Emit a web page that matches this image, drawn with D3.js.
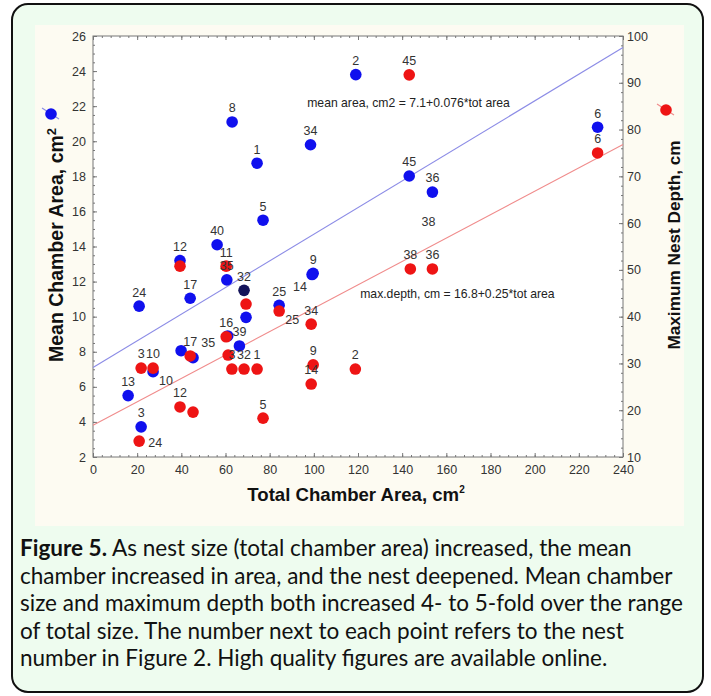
<!DOCTYPE html>
<html><head><meta charset="utf-8">
<script src="https://cdn.jsdelivr.net/npm/d3@7"></script>
<style>
html,body{margin:0;padding:0;background:#fff;}
svg{display:block;}
</style></head>
<body><svg id="c" width="711" height="696"></svg>
<script>
// ---------- data ----------
const xTicks = [0,20,40,60,80,100,120,140,160,180,200,220,240];
const leftTicks = [2,4,6,8,10,12,14,16,18,20,22,24,26];
const rightTicks = [10,20,30,40,50,60,70,80,90,100];

// mean chamber area (left axis), blue
const blueLabels = ["2","8","1","34","5","40","12","35","32","24","17","25","9","14","","","39","","","10","13","3","45","36","6"];
const blueX      = [119,63,74.3,98.5,77,56.2,39.4,60.6,68.4,20.9,44,84.3,99.7,99.2,69.3,61,66.3,39.9,45.3,27.2,15.9,21.8,143.2,153.7,228.5];
const blueY      = [23.8,21.1,18.75,19.8,15.5,14.1,13.2,12.1,11.5,10.6,11.05,10.65,12.47,12.4,9.96,8.9,8.33,8.06,7.66,6.86,5.5,3.72,18.02,17.1,20.8];
const bluePlace  = ["n","n","n","n","n","n","n","n","n","n","n","n","n","sw","n","n","n","n","n","se","n","n","n","n","n"];

// maximum nest depth (right axis), red
const redLabels = ["45","6","38","36","","11","","25","34","16","35","17","3","10","3","32","1","9","14","2","5","12","","24"];
const redX      = [143.2,228.5,143.7,153.7,39.4,60.3,69.3,84.3,98.8,60.3,61.2,44,21.8,27.2,62.9,68.4,74.3,99.7,98.8,118.8,77,39.4,45.3,20.9];
const redY      = [91.7,75.0,50.2,50.2,50.8,50.8,42.7,41.2,38.4,35.7,31.8,31.6,29.0,29.0,28.8,28.8,28.8,29.7,25.6,28.8,18.3,20.7,19.6,13.4];
const redPlace  = ["n","n","n","n","n","n","n","se","n","n","nw","n","n","n","n","n","n","n","n","n","n","n","n","e"];

// stray label
const extraLabels = ["38"];
const extraX = [151.9];
const extraY = [15.4];

// regressions
const blueFit = {a:7.1, b:0.076, text:"mean area, cm2 = 7.1+0.076*tot area"};
const redFit  = {a:16.8, b:0.25, text:"max.depth, cm = 16.8+0.25*tot area"};

const captionLines = [
  ["Figure 5.", " As nest size (total chamber area) increased, the mean"],
  ["", "chamber increased in area, and the nest deepened. Mean chamber"],
  ["", "size and maximum depth both increased 4- to 5-fold over the range"],
  ["", "of total size. The number next to each point refers to the nest"],
  ["", "number in Figure 2. High quality figures are available online."]
];

// ---------- drawing ----------
const svg = d3.select("#c");
const BLUE = "#1010ee", RED = "#ee1414";
const tickFont = "Liberation Sans, Arial, sans-serif";

svg.append("rect").attr("x",12).attr("y",4).attr("width",691).attr("height",688)
  .attr("rx",16).attr("fill","#eefcef").attr("stroke","#111").attr("stroke-width",2);
svg.append("rect").attr("x",35).attr("y",25).attr("width",649).attr("height",501).attr("fill","#fdfbf2");

const L=93, R=623, T=36, B=457;
const x = d3.scaleLinear([0,240],[L,R]);
const yL = d3.scaleLinear([2,26],[B,T]);
const yR = d3.scaleLinear([10,100],[B,T]);

svg.append("rect").attr("x",L).attr("y",T).attr("width",R-L).attr("height",B-T).attr("fill","#fff");

function styleAxis(g){
  g.select(".domain").remove();
  g.selectAll("line").attr("stroke","#777");
  g.selectAll("text").attr("fill","#333").attr("font-family",tickFont).attr("font-size",12.5);
}
// major axes
svg.append("g").attr("transform",`translate(0,${B})`)
  .call(d3.axisBottom(x).tickValues(xTicks).tickSize(-4).tickPadding(8)).call(styleAxis);
svg.append("g").attr("transform",`translate(${L},0)`)
  .call(d3.axisLeft(yL).tickValues(leftTicks).tickSize(-4).tickPadding(7)).call(styleAxis);
svg.append("g").attr("transform",`translate(${R},0)`)
  .call(d3.axisRight(yR).tickValues(rightTicks).tickSize(-4).tickPadding(4)).call(styleAxis);
svg.append("g").attr("transform",`translate(0,${T})`)
  .call(d3.axisTop(x).tickValues(xTicks).tickSize(-4).tickFormat("")).call(styleAxis);
// minor ticks
const minorX = d3.range(0,240.01,4), minorL = d3.range(2,26.01,0.5), minorR = d3.range(10,100.01,2);
[[d3.axisBottom(x).tickValues(minorX),`translate(0,${B})`],
 [d3.axisTop(x).tickValues(minorX),`translate(0,${T})`],
 [d3.axisLeft(yL).tickValues(minorL),`translate(${L},0)`],
 [d3.axisRight(yR).tickValues(minorR),`translate(${R},0)`]].forEach(([ax,tr])=>{
  svg.append("g").attr("transform",tr).call(ax.tickSize(-2).tickFormat("")).call(styleAxis);
});
svg.append("rect").attr("x",L).attr("y",T).attr("width",R-L).attr("height",B-T)
  .attr("fill","none").attr("stroke","#777").attr("stroke-width",1);

// regression lines
const plot = svg.append("g");
plot.append("line").attr("x1",x(0)).attr("x2",x(240))
  .attr("y1",yL(blueFit.a)).attr("y2",yL(blueFit.a+blueFit.b*240))
  .attr("stroke","#8c8ce6").attr("stroke-width",1.1);
plot.append("line").attr("x1",x(0)).attr("x2",x(240))
  .attr("y1",yR(redFit.a)).attr("y2",yR(redFit.a+redFit.b*240))
  .attr("stroke","#f08c8c").attr("stroke-width",1.1);

// points
const blue = blueX.map((v,i)=>({x:v,y:blueY[i],label:blueLabels[i],place:bluePlace[i],s:"b"}));
const red  = redX.map((v,i)=>({x:v,y:redY[i],label:redLabels[i],place:redPlace[i],s:"r"}));
plot.selectAll("circle.b").data(blue).join("circle").attr("class","b")
  .attr("cx",d=>x(d.x)).attr("cy",d=>yL(d.y)).attr("r",5.8)
  .attr("fill",d=>d.label==="32"?"#14145a":BLUE);
plot.selectAll("circle.r").data(red).join("circle").attr("class","r")
  .attr("cx",d=>x(d.x)).attr("cy",d=>yR(d.y)).attr("r",5.8).attr("fill",RED);

// point labels
const off = {n:[0,-14], e:[16,2], se:[13,9], sw:[-12,12], nw:[-20,-12]};
const all = blue.concat(red).filter(d=>d.label!=="");
plot.selectAll("text.pl").data(all).join("text").attr("class","pl")
  .attr("x",d=>x(d.x)+off[d.place][0])
  .attr("y",d=>(d.s==="b"?yL(d.y):yR(d.y))+off[d.place][1])
  .attr("dy","0.35em").attr("text-anchor","middle")
  .attr("font-family",tickFont).attr("font-size",12.5).attr("fill","#333")
  .text(d=>d.label);
plot.selectAll("text.ex").data(extraLabels).join("text").attr("class","ex")
  .attr("x",(d,i)=>x(extraX[i])).attr("y",(d,i)=>yL(extraY[i])).attr("dy","0.35em")
  .attr("text-anchor","middle").attr("font-family",tickFont).attr("font-size",12.5).attr("fill","#333")
  .text(d=>d);

// equations
plot.append("text").attr("x",x(97)).attr("y",yL(22.2)).attr("dy","0.35em")
  .attr("font-family",tickFont).attr("font-size",12.2).attr("fill","#222").text(blueFit.text);
plot.append("text").attr("x",x(121)).attr("y",yR(44.9)).attr("dy","0.35em")
  .attr("font-family",tickFont).attr("font-size",12.2).attr("fill","#222").text(redFit.text);

// axis titles
const title = (xx,yy,rot,fs)=>svg.append("text").attr("transform",`translate(${xx},${yy}) rotate(${rot})`)
    .attr("text-anchor","middle").attr("font-family",tickFont).attr("font-weight","bold")
    .attr("font-size",fs).attr("fill","#111");
const tl = title(63,245,-90,19.5); tl.append("tspan").text("Mean Chamber Area, cm");
tl.append("tspan").attr("dy",-7).attr("font-size",13).text("2");
const tr = title(680,245,-90,17.2); tr.text("Maximum Nest Depth, cm");
const tb = title(356,501,0,18.6); tb.append("tspan").text("Total Chamber Area, cm");
tb.append("tspan").attr("dy",-8).attr("font-size",10).text("2");

// legend symbols
[[51,114,BLUE,"#8c8ce6"],[666,110,RED,"#f08c8c"]].forEach(([cx,cy,f,lc])=>{
  svg.append("line").attr("x1",cx-9).attr("y1",cy-6).attr("x2",cx+8).attr("y2",cy+5)
    .attr("stroke",lc).attr("stroke-width",1.2);
  svg.append("circle").attr("cx",cx).attr("cy",cy).attr("r",5.8).attr("fill",f);
});

// caption
const capFont = "Lato, 'Open Sans', sans-serif";
const probe = svg.append("text").attr("font-family",capFont).attr("font-size",20).text(captionLines[2][1]);
const w = probe.node().getComputedTextLength(); probe.remove();
const capSize = 20*663/w;
captionLines.forEach((ln,i)=>{
  const t = svg.append("text").attr("x",20).attr("y",556+i*27.6)
    .attr("font-family",capFont).attr("font-size",capSize).attr("fill","#111");
  if(ln[0]) t.append("tspan").attr("font-weight","bold").text(ln[0]);
  t.append("tspan").text(ln[1]);
});
</script></body></html>
